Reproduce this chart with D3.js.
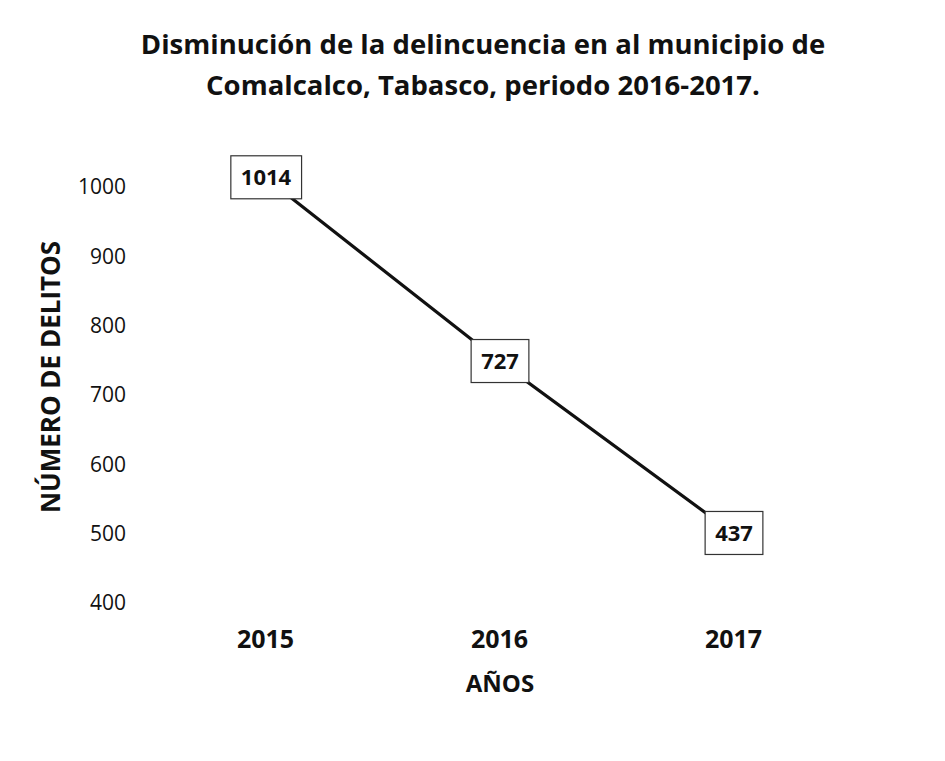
<!DOCTYPE html>
<html>
<head>
<meta charset="utf-8">
<script src="https://d3js.org/d3.v7.min.js"></script>
<style>
  body { margin: 0; background: #fff; }
  svg text { font-family: "Open Sans", sans-serif; fill: #111; }
</style>
</head>
<body>
<svg></svg>
<script>
const width = 945, height = 761;

// data
const years = ["2015", "2016", "2017"];
const plotted = [1014, 749, 501];      // where the points sit on the axis
const labels = ["1014", "727", "437"]; // values printed in the boxes
const yTicks = [400, 500, 600, 700, 800, 900, 1000];
const titleLines = ["Disminución de la delincuencia en al municipio de",
                    "Comalcalco, Tabasco, periodo 2016-2017."];

const svg = d3.select('svg').attr('width', width).attr('height', height);

const x = d3.scalePoint().domain(years).range([148, 850]).padding(0.5);
const y = d3.scaleLinear().domain([400, 1000]).range([603, 187]);

// title
svg.append('g').selectAll('text').data(titleLines).join('text')
  .attr('x', 483).attr('y', (d, i) => 54 + i * 41)
  .attr('text-anchor', 'middle')
  .style('font-size', '27.5px').style('font-weight', 700)
  .text(d => d);

// y axis (labels only)
const yAxis = svg.append('g')
  .attr('transform', 'translate(126,0)')
  .call(d3.axisLeft(y).tickValues(yTicks).tickSize(0).tickPadding(0).tickFormat(d3.format('d')));
yAxis.select('.domain').remove();
yAxis.selectAll('text').style('font-size', '21px').style('font-family', '"Open Sans", sans-serif').attr('fill', '#111');

// x axis (labels only)
const xAxis = svg.append('g')
  .attr('transform', 'translate(0,630)')
  .call(d3.axisBottom(x).tickSize(0).tickPadding(0));
xAxis.select('.domain').remove();
xAxis.selectAll('text').style('font-size', '25px').style('font-weight', 700)
  .style('font-family', '"Open Sans", sans-serif').attr('fill', '#111');

// axis titles
svg.append('text')
  .attr('x', 500).attr('y', 692)
  .attr('text-anchor', 'middle')
  .style('font-size', '24px').style('font-weight', 700)
  .text('AÑOS');

svg.append('text')
  .attr('transform', 'translate(60,377) rotate(-90)')
  .attr('text-anchor', 'middle')
  .style('font-size', '26px').style('font-weight', 700)
  .text('NÚMERO DE DELITOS');

// line
const pts = years.map((d, i) => ({ year: d, v: plotted[i], label: labels[i] }));
svg.append('path')
  .datum(pts)
  .attr('fill', 'none')
  .attr('stroke', '#111')
  .attr('stroke-width', 3.2)
  .attr('d', d3.line().x(d => x(d.year)).y(d => y(d.v)));

// boxed data labels
const lab = svg.append('g').selectAll('g').data(pts).join('g')
  .attr('transform', d => `translate(${x(d.year) + 1},${y(d.v)})`);
lab.append('text')
  .attr('text-anchor', 'middle')
  .attr('dy', '0.36em')
  .style('font-size', '22px').style('font-weight', 700)
  .text(d => d.label);
lab.each(function () {
  const g = d3.select(this);
  const bb = g.select('text').node().getBBox();
  g.insert('rect', 'text')
    .attr('x', bb.x - 10).attr('y', -21.5)
    .attr('width', bb.width + 20).attr('height', 43)
    .attr('fill', '#fff')
    .attr('stroke', '#333').attr('stroke-width', 1.2);
});
</script>
</body>
</html>
